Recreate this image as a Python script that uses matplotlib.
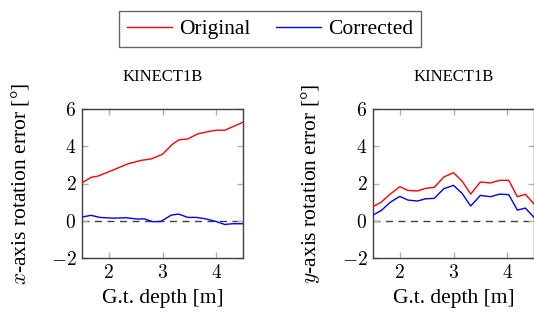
import matplotlib
matplotlib.use("Agg")
import matplotlib.pyplot as plt
from matplotlib.lines import Line2D

plt.rcParams['font.family'] = ['Liberation Serif', 'DejaVu Serif']
plt.rcParams['mathtext.fontset'] = 'cm'

# left panel: x-axis rotation error
x_left_orig = [1.5, 1.67, 1.8, 2.0, 2.2, 2.35, 2.6, 2.79, 3.0, 3.19, 3.31, 3.47, 3.65, 3.84, 4.0, 4.16, 4.5]
y_left_orig = [2.04, 2.33, 2.4, 2.63, 2.87, 3.05, 3.24, 3.32, 3.57, 4.12, 4.35, 4.39, 4.66, 4.78, 4.86, 4.86, 5.29]
x_left_corr = [1.5, 1.67, 1.83, 2.07, 2.32, 2.54, 2.66, 2.82, 2.97, 3.16, 3.3, 3.47, 3.63, 3.81, 4.0, 4.16, 4.3, 4.5]
y_left_corr = [0.2, 0.29, 0.18, 0.14, 0.16, 0.09, 0.1, -0.05, -0.04, 0.3, 0.36, 0.18, 0.18, 0.1, -0.04, -0.2, -0.16, -0.16]

# right panel: y-axis rotation error
x_right = [1.49, 1.65, 1.82, 2.0, 2.15, 2.33, 2.48, 2.64, 2.82, 3.0, 3.16, 3.32, 3.5, 3.69, 3.86, 4.03, 4.19, 4.34, 4.5]
y_right_orig = [0.75, 0.99, 1.43, 1.83, 1.63, 1.6, 1.74, 1.79, 2.35, 2.58, 2.13, 1.43, 2.08, 2.03, 2.17, 2.17, 1.29, 1.42, 0.9]
y_right_corr = [0.29, 0.54, 0.99, 1.31, 1.11, 1.06, 1.18, 1.2, 1.72, 1.9, 1.47, 0.79, 1.36, 1.29, 1.43, 1.4, 0.57, 0.68, 0.18]

xticks = [2, 3, 4]
yticks = [-2, 0, 2, 4, 6]

fig = plt.figure(figsize=(5.34, 3.14), dpi=100)
ax1 = fig.add_axes([82 / 534, 1 - 258 / 314, 161 / 534, 149 / 314])
ax2 = fig.add_axes([373 / 534, 1 - 258 / 314, 161 / 534, 149 / 314])


def style(ax, ylabel):
    ax.axhline(0, color='#404040', lw=1.0, ls=(0, (5, 4)), zorder=1)
    ax.set_xlim(1.5, 4.5)
    ax.set_ylim(-2, 6)
    ax.set_xticks(xticks)
    ax.set_yticks(yticks)
    ax.set_xticklabels([f'${t}$' for t in xticks])
    ax.set_yticklabels([f'${t}$' if t >= 0 else f'$-{abs(t)}$' for t in yticks])
    ax.tick_params(direction='in', length=4, width=1, color='#b0b0b0',
                   top=True, right=True, labelsize=14, pad=4)
    for s in ax.spines.values():
        s.set_color('#404040')
        s.set_linewidth(1.0)
    ax.set_title('KINECT1B', fontsize=12, pad=20)
    ax.set_xlabel('G.t. depth [m]', fontsize=15.5, labelpad=5)
    ax.set_ylabel(ylabel, fontsize=15.5, labelpad=14)


ax1.plot(x_left_orig, y_left_orig, color='#ff0000', lw=1.0, zorder=3)
ax1.plot(x_left_corr, y_left_corr, color='#0000ff', lw=1.0, zorder=3)
style(ax1, r'$x$-axis rotation error [°]')

ax2.plot(x_right, y_right_orig, color='#ff0000', lw=1.0, zorder=3)
ax2.plot(x_right, y_right_corr, color='#0000ff', lw=1.0, zorder=3)
style(ax2, r'$y$-axis rotation error [°]')

handles = [Line2D([], [], color='#ff0000', lw=1.0),
           Line2D([], [], color='#0000ff', lw=1.0)]
leg = fig.legend(handles, ['Original', 'Corrected'], loc='center',
                 bbox_to_anchor=(270 / 534, 1 - 29 / 314), ncol=2,
                 fontsize=15.5, frameon=True, fancybox=False, handlelength=2.1,
                 columnspacing=1.15, handletextpad=0.35, borderpad=0.35,
                 borderaxespad=0)
leg.get_frame().set_edgecolor('#404040')
leg.get_frame().set_linewidth(1.0)

fig.savefig('out.png', dpi=100)
